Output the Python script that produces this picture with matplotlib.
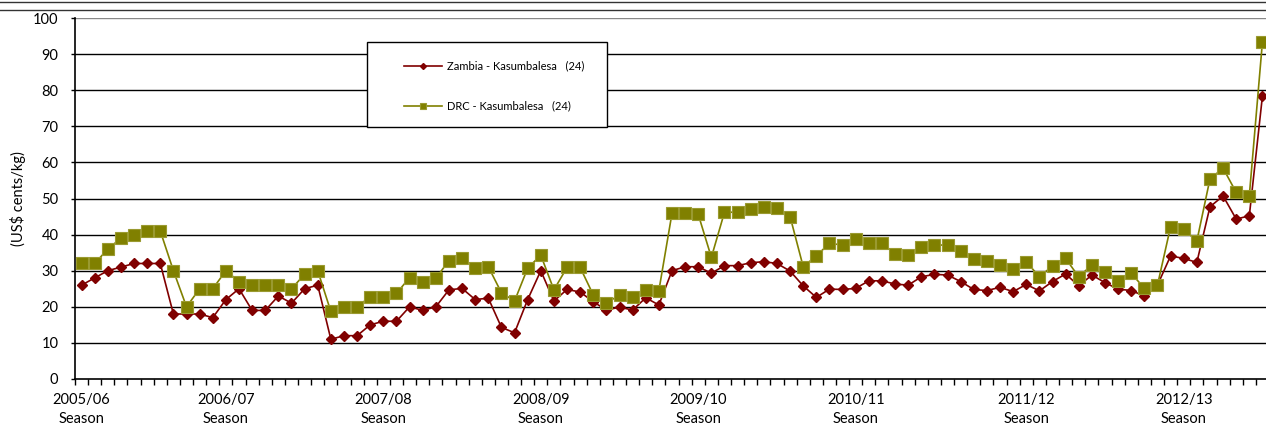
import matplotlib
matplotlib.use("Agg")
import matplotlib.pyplot as plt
from matplotlib.lines import Line2D
from matplotlib.patches import Rectangle
import numpy as np

plt.rcParams['font.family'] = ['Lato', 'DejaVu Sans']

# monthly prices, US$ cents/kg
zambia = [26, 28, 30, 31, 32, 32, 32, 18, 18, 18, 17, 22, 25, 19, 19, 23, 21, 25, 26,
          11, 12, 12, 15, 16, 16, 20, 19, 20, 24.7, 25.1, 22, 22.4, 14.3, 12.8, 22, 30,
          21.6, 24.8, 24.1, 21.4, 19.1, 19.9, 19.1, 22.5, 20.5, 30, 31.1, 31.1, 29.3,
          31.4, 31.4, 32.2, 32.5, 32, 29.9, 25.8, 22.6, 24.9, 24.8, 25.1, 27.2, 27.2,
          26.3, 26, 28.3, 29, 28.8, 27, 24.8, 24.5, 25.4, 24.2, 26.2, 24.4, 27, 29.1,
          25.8, 28.8, 26.7, 24.9, 24.5, 23, 26, 34.1, 33.4, 32.3, 47.7, 50.7, 44.3,
          45.2, 78.4]
drc = [32, 32, 36, 39, 40, 41, 41, 30, 20, 25, 25, 30, 27, 26, 26, 26, 25, 29, 30,
       18.7, 20, 20, 22.8, 22.8, 23.7, 28.1, 26.8, 27.9, 32.8, 33.6, 30.7, 31.1, 23.9,
       21.6, 30.7, 34.3, 24.7, 30.9, 30.9, 23.3, 21, 23.3, 22.6, 24.7, 24.5, 45.9,
       45.9, 45.6, 33.7, 46.2, 46.2, 47.2, 47.6, 47.3, 45, 31.1, 34.1, 37.6, 37.1,
       38.8, 37.8, 37.8, 34.5, 34.3, 36.5, 37.1, 37.1, 35.5, 33.2, 32.7, 31.7, 30.4,
       32.5, 28.3, 31.3, 33.4, 28.3, 31.6, 29.7, 27.1, 29.3, 25.1, 26, 42.2, 41.5,
       38.2, 55.4, 58.4, 51.7, 50.8, 93.4]

season_labels = ["2005/06\nSeason", "2006/07\nSeason", "2007/08\nSeason", "2008/09\nSeason",
                 "2009/10\nSeason", "2010/11\nSeason", "2011/12\nSeason", "2012/13\nSeason"]
season_idx = [0, 11, 23, 35, 47, 59, 72, 84]

series_names = ["Zambia - Kasumbalesa   (24)", "DRC - Kasumbalesa   (24)"]

W, H = 1266, 426
fig = plt.figure(figsize=(W / 100, H / 100), dpi=100)

# plot area in pixels: x axis from 75 to ~1269, y from 379 (0) to 18 (100)
x0, x1, ytop, ybot = 75, 1269, 18, 379
ax = fig.add_axes([x0 / W, (H - ybot) / H, (x1 - x0) / W, (ybot - ytop) / H])

x = np.arange(len(zambia))
ax.plot(x, zambia, color="#800000", marker="D", markersize=5.5, lw=1.2,
        label=series_names[0], zorder=3, clip_on=False)
ax.plot(x, drc, color="#808000", marker="s", markersize=8, lw=1.2,
        markeredgecolor="#9a9a30", markeredgewidth=0.8,
        label=series_names[1], zorder=4, clip_on=False)

ax.set_xlim(-0.5, len(zambia) - 0.5)
ax.set_ylim(0, 100)
ax.set_yticks(range(0, 101, 10))
for v in range(10, 100, 10):
    ax.axhline(v, color="black", lw=1.0, zorder=1)
ax.axhline(100, color="#888888", lw=1.0, zorder=1)

for s in ["top", "right"]:
    ax.spines[s].set_visible(False)
ax.spines["left"].set_linewidth(1.2)
ax.spines["bottom"].set_linewidth(1.2)

ax.tick_params(axis="y", length=3, width=1, pad=9, labelsize=10.5)
ax.set_xticks(season_idx)
ax.set_xticklabels(season_labels)
ax.set_xticks(np.arange(-0.5, len(zambia), 1), minor=True)
ax.tick_params(axis="x", which="major", length=0, pad=10, labelsize=10.5)
ax.tick_params(axis="x", which="minor", length=4, width=1)
for t in ax.get_xticklabels():
    t.set_linespacing(1.45)

fig.text(18 / W, 1 - 199 / H, "(US$ cents/kg)", rotation=90, ha="center", va="center",
         fontsize=10.5)

# legend box
bx0, by0, bx1, by1 = 367, 42, 607, 127
fig.add_artist(Rectangle((bx0 / W, 1 - by1 / H), (bx1 - bx0) / W, (by1 - by0) / H,
                         transform=fig.transFigure, facecolor="white", edgecolor="black",
                         lw=1.0, zorder=5))
leg = fig.legend(loc="upper left", bbox_to_anchor=(398 / W, 1 - 55 / H), frameon=False,
                 fontsize=8, borderpad=0, handlelength=3.5, handletextpad=0.4,
                 labelspacing=2.6, markerscale=0.55)
leg.set_zorder(6)

# page rules at the top
fig.add_artist(Line2D([0, 1], [1 - 1.5 / H, 1 - 1.5 / H], color="#333333", lw=1.0))
fig.add_artist(Line2D([0, 1], [1 - 9.5 / H, 1 - 9.5 / H], color="#333333", lw=1.0))

fig.savefig("out.png", dpi=100)
